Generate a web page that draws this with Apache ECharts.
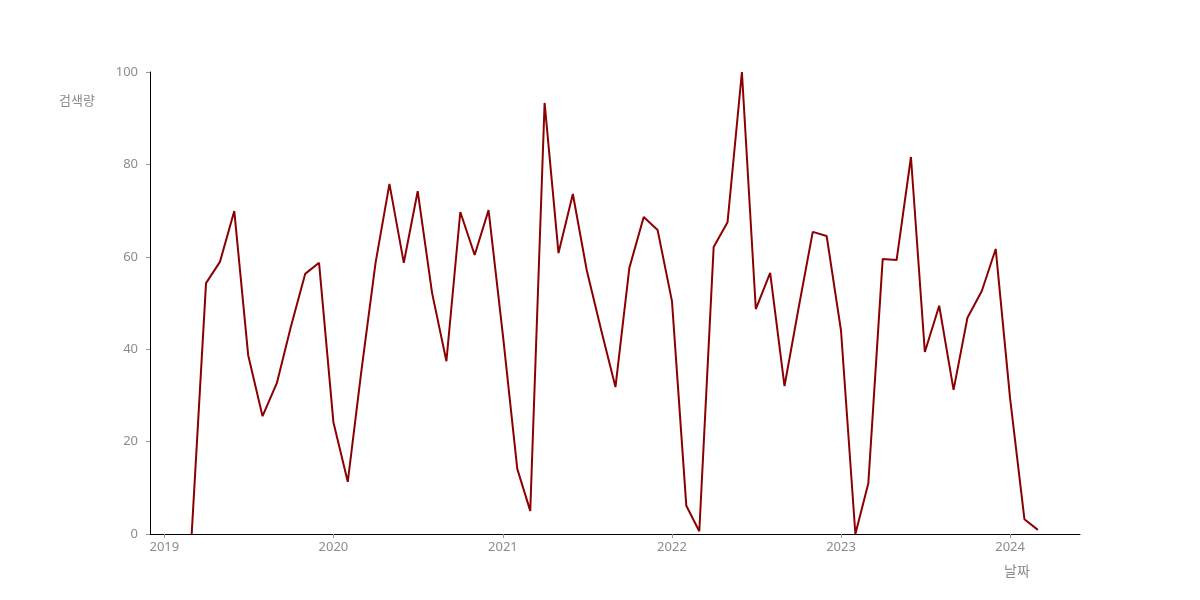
<!DOCTYPE html>
<html>
<head>
<meta charset="utf-8">
<script src="https://cdn.jsdelivr.net/npm/echarts@6/dist/echarts.min.js"></script>
<style>
  html, body { margin: 0; padding: 0; background: #fff; }
  #main { width: 1200px; height: 600px; }
</style>
</head>
<body>
<div id="main"></div>
<script>
// 월별 검색량 (2019-03 ~ 2024-03)
var months = [
  '2019-03-01', '2019-04-01', '2019-05-01', '2019-06-01', '2019-07-01', '2019-08-01',
  '2019-09-01', '2019-10-01', '2019-11-01', '2019-12-01',
  '2020-01-01', '2020-02-01', '2020-03-01', '2020-04-01', '2020-05-01', '2020-06-01',
  '2020-07-01', '2020-08-01', '2020-09-01', '2020-10-01', '2020-11-01', '2020-12-01',
  '2021-01-01', '2021-02-01', '2021-03-01', '2021-04-01', '2021-05-01', '2021-06-01',
  '2021-07-01', '2021-08-01', '2021-09-01', '2021-10-01', '2021-11-01', '2021-12-01',
  '2022-01-01', '2022-02-01', '2022-03-01', '2022-04-01', '2022-05-01', '2022-06-01',
  '2022-07-01', '2022-08-01', '2022-09-01', '2022-10-01', '2022-11-01', '2022-12-01',
  '2023-01-01', '2023-02-01', '2023-03-01', '2023-04-01', '2023-05-01', '2023-06-01',
  '2023-07-01', '2023-08-01', '2023-09-01', '2023-10-01', '2023-11-01', '2023-12-01',
  '2024-01-01', '2024-02-01', '2024-03-01'
];
var searchVolume = [
  0, 54.3, 58.9, 69.9, 38.7, 25.5, 32.7, 44.8, 56.3, 58.7,
  24.2, 11.3, 35, 58.7, 75.8, 58.7, 74.2, 52.2, 37.4, 69.7, 60.4, 70.1,
  43, 14.1, 5, 93.3, 60.8, 73.6, 57.1, 44.2, 31.8, 57.6, 68.6, 65.8,
  50.4, 6.1, 0.6, 62.1, 67.5, 100, 48.7, 56.5, 32, 48.7, 65.4, 64.5,
  44, 0, 11, 59.5, 59.3, 81.6, 39.4, 49.4, 31.2, 46.8, 52.6, 61.7,
  29.4, 3.2, 0.9
];
var xRange = ['2018-12-01', '2024-05-31'];
var yTicks = [0, 20, 40, 60, 80, 100];

var seriesData = months.map(function (m, i) { return [m, searchVolume[i]]; });

var myChart = echarts.init(document.getElementById('main'));
myChart.setOption({
  textStyle: { fontFamily: 'Noto Sans CJK KR' },
  animation: false,
  grid: { left: 150, right: 120, top: 72, bottom: 66 },
  xAxis: {
    type: 'time',
    min: xRange[0],
    max: xRange[1],
    minInterval: 365 * 24 * 3600 * 1000,
    name: '날짜',
    nameLocation: 'end',
    nameGap: -63,
    nameTextStyle: { color: '#8c8c8c', fontSize: 14, align: 'center', verticalAlign: 'top', padding: [30, 0, 0, 0] },
    axisLine: { lineStyle: { color: '#000', width: 1 } },
    axisTick: { show: true, length: 4, lineStyle: { color: '#999' } },
    axisLabel: { color: '#8c8c8c', fontSize: 13, fontFamily: 'Noto Sans', formatter: '{yyyy}', margin: 7, showMinLabel: false, showMaxLabel: false },
    splitLine: { show: false }
  },
  yAxis: {
    type: 'value',
    min: yTicks[0],
    max: yTicks[yTicks.length - 1],
    interval: 20,
    name: '검색량',
    nameLocation: 'end',
    nameGap: -28,
    nameTextStyle: { color: '#8c8c8c', fontSize: 13, align: 'right', verticalAlign: 'middle', padding: [0, 55, 0, 0] },
    axisLine: { show: true, lineStyle: { color: '#000', width: 1 } },
    axisTick: { show: true, length: 4, lineStyle: { color: '#999' } },
    axisLabel: { color: '#8c8c8c', fontSize: 13, fontFamily: 'Noto Sans', margin: 12 },
    splitLine: { show: false }
  },
  series: [{
    name: '검색량',
    type: 'line',
    data: seriesData,
    showSymbol: false,
    symbol: 'none',
    lineStyle: { color: '#8b0000', width: 2 },
    itemStyle: { color: '#8b0000' }
  }]
});
</script>
</body>
</html>
